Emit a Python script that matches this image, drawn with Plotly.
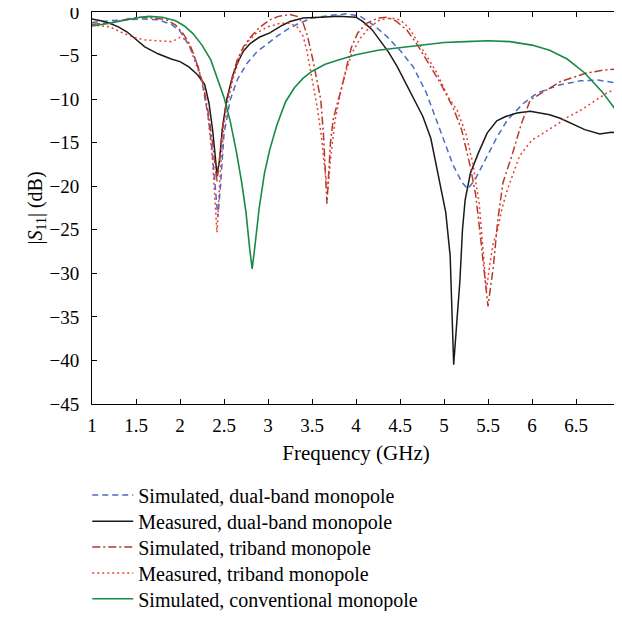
import plotly.graph_objects as go

# Simulated, dual-band monopole
f_sim_dual = [1.0, 1.2, 1.4, 1.6, 1.75, 1.9, 2.0, 2.1, 2.2, 2.26, 2.32, 2.36, 2.40, 2.43, 2.46, 2.5,
              2.57, 2.65, 2.76, 2.88, 3.0, 3.1, 3.22, 3.35, 3.5, 3.7, 3.9, 4.05, 4.2, 4.35, 4.5, 4.65,
              4.8, 4.95, 5.1, 5.2, 5.27, 5.35, 5.5, 5.6, 5.72, 5.9, 6.06, 6.3, 6.55, 6.75, 6.92, 7.0]
s_sim_dual = [-1.2, -1.0, -0.9, -0.8, -0.9, -1.4, -2.2, -3.8, -6.0, -8.6, -12.0, -15.5, -20.0, -23.5, -20.0, -14.0,
              -10.1, -7.8, -5.9, -4.5, -3.6, -2.8, -2.0, -1.3, -0.7, -0.4, -0.2, -0.5, -1.5, -2.8, -4.4, -6.3,
              -9.3, -13.5, -17.5, -19.5, -20.3, -19.3, -16.4, -14.4, -12.4, -10.5, -9.3, -8.4, -7.9, -7.8, -8.1, -8.4]

# Measured, dual-band monopole
f_meas_dual = [1.0, 1.1, 1.2, 1.3, 1.4, 1.5, 1.6, 1.75, 1.9, 2.0, 2.1, 2.2, 2.28, 2.33, 2.37, 2.4, 2.42, 2.45,
               2.48, 2.53, 2.6, 2.65, 2.72, 2.8, 2.9, 3.02, 3.15, 3.25, 3.4, 3.6, 3.8, 4.0, 4.08, 4.18, 4.27,
               4.37, 4.47, 4.6, 4.76, 4.85, 4.95, 5.02, 5.07, 5.11, 5.15, 5.18, 5.21, 5.24, 5.3, 5.39, 5.49,
               5.6, 5.7, 5.83, 5.98, 6.1, 6.2, 6.32, 6.45, 6.6, 6.77, 6.9, 7.0]
s_meas_dual = [-0.8, -1.0, -1.3, -1.7, -2.3, -3.2, -4.0, -4.8, -5.4, -5.7, -6.3, -7.2, -8.3, -10.5, -13.5, -16.5, -18.7, -17.0,
               -13.5, -10.1, -7.3, -5.9, -4.5, -3.6, -2.9, -2.4, -1.6, -1.1, -0.7, -0.6, -0.5, -0.6, -1.1, -2.0, -3.2,
               -4.6, -6.3, -8.8, -12.0, -14.5, -19.6, -23.0, -28.0, -40.5, -35.0, -31.0, -25.0, -21.6, -18.5, -16.2, -13.9,
               -12.5, -12.0, -11.6, -11.4, -11.6, -11.8, -12.2, -12.8, -13.5, -14.0, -13.8, -13.9]

# Simulated, triband monopole
f_sim_tri = [1.0, 1.2, 1.4, 1.55, 1.7, 1.85, 1.95, 2.03, 2.1, 2.15, 2.2, 2.26, 2.32, 2.37, 2.42, 2.46, 2.5,
             2.53, 2.58, 2.65, 2.72, 2.8, 2.9, 3.02, 3.12, 3.25, 3.33, 3.4, 3.45, 3.51, 3.56, 3.6, 3.63, 3.67,
             3.71, 3.74, 3.79, 3.84, 3.9, 3.95, 4.02, 4.12, 4.25, 4.35, 4.45, 4.58, 4.7, 4.8, 4.95, 5.1, 5.2,
             5.3, 5.36, 5.41, 5.46, 5.5, 5.53, 5.56, 5.61, 5.67, 5.78, 5.88, 5.98, 6.15, 6.32, 6.5, 6.62, 6.8, 7.0]
s_sim_tri = [-1.4, -1.3, -0.8, -0.6, -0.7, -0.9, -1.5, -2.4, -3.5, -4.7, -6.2, -8.2, -11.5, -15.0, -19.5, -15.5, -12.0,
             -10.5, -8.0, -5.5, -4.0, -2.9, -1.8, -0.9, -0.5, -0.3, -0.5, -1.3, -2.8, -5.5, -8.0, -10.1, -14.0, -22.0,
             -15.0, -12.4, -10.4, -8.6, -6.0, -4.0, -2.4, -1.3, -0.7, -0.6, -1.0, -2.1, -3.8, -5.5, -8.0, -10.9, -13.5,
             -17.8, -21.0, -25.4, -30.0, -33.8, -31.5, -29.3, -24.0, -19.6, -16.2, -12.8, -10.1, -9.0, -8.0, -7.4, -7.0, -6.7, -6.5]

# Measured, triband monopole
f_meas_tri = [1.0, 1.2, 1.35, 1.47, 1.6, 1.75, 1.89, 1.95, 2.0, 2.05, 2.1, 2.15, 2.2, 2.26, 2.32, 2.37, 2.42, 2.46,
              2.5, 2.53, 2.6, 2.68, 2.77, 2.87, 3.0, 3.14, 3.25, 3.33, 3.4, 3.44, 3.51, 3.56, 3.61, 3.65, 3.68,
              3.71, 3.76, 3.85, 3.95, 4.05, 4.15, 4.27, 4.4, 4.5, 4.6, 4.69, 4.8, 4.92, 5.05, 5.15, 5.25, 5.33,
              5.4, 5.45, 5.48, 5.52, 5.56, 5.6, 5.66, 5.72, 5.8, 5.86, 6.0, 6.24, 6.4, 6.55, 6.7, 6.85, 7.0]
s_meas_tri = [-1.5, -1.7, -2.4, -2.9, -3.2, -3.3, -3.4, -3.2, -2.9, -3.1, -3.6, -5.1, -6.5, -8.2, -12.0, -17.0, -25.3, -18.0,
              -13.0, -10.9, -7.8, -5.1, -3.4, -2.4, -1.7, -1.3, -1.3, -1.7, -2.8, -4.4, -8.2, -11.0, -14.5, -18.5, -20.5,
              -17.0, -12.5, -8.0, -4.8, -3.0, -1.8, -0.9, -0.7, -0.9, -1.8, -3.2, -5.0, -7.0, -9.8, -11.3, -14.0, -17.5,
              -22.0, -28.0, -32.0, -29.0, -26.5, -25.4, -22.5, -20.4, -18.3, -16.5, -14.7, -13.2, -12.1, -11.3, -10.3, -9.3, -8.6]

# Simulated, conventional monopole
f_sim_conv = [1.0, 1.2, 1.4, 1.55, 1.65, 1.8, 1.95, 2.05, 2.15, 2.25, 2.35, 2.43, 2.5, 2.57, 2.64, 2.7, 2.75,
              2.79, 2.82, 2.85, 2.9, 2.96, 3.02, 3.1, 3.2, 3.3, 3.4, 3.5, 3.65, 3.8, 4.0, 4.25, 4.5, 4.75, 5.0,
              5.25, 5.5, 5.75, 6.0, 6.2, 6.4, 6.6, 6.8, 7.0]
s_sim_conv = [-1.6, -1.3, -0.9, -0.6, -0.5, -0.6, -1.0, -1.6, -2.5, -3.8, -5.5, -7.8, -9.8, -12.5, -16.0, -19.5, -23.0,
              -27.0, -29.5, -27.0, -22.5, -18.5, -15.8, -13.0, -10.3, -8.7, -7.6, -6.8, -6.0, -5.5, -4.9, -4.4, -4.1, -3.8, -3.5,
              -3.4, -3.3, -3.4, -3.8, -4.4, -5.4, -7.0, -9.2, -11.9]

x_ticks = [1, 1.5, 2, 2.5, 3, 3.5, 4, 4.5, 5, 5.5, 6, 6.5, 7]
y_ticks = [0, -5, -10, -15, -20, -25, -30, -35, -40, -45]

series = [
    ("Simulated, dual-band monopole", f_sim_dual, s_sim_dual, "#4a6cc0", "6px,4px", 1.5),
    ("Measured, dual-band monopole", f_meas_dual, s_meas_dual, "#1a1a1a", "solid", 1.5),
    ("Simulated, triband monopole", f_sim_tri, s_sim_tri, "#b03c2a", "8px,3px,2px,3px", 1.5),
    ("Measured, triband monopole", f_meas_tri, s_meas_tri, "#f03a3a", "2px,3px", 1.5),
    ("Simulated, conventional monopole", f_sim_conv, s_sim_conv, "#188a48", "solid", 1.6),
]

font_family = "Liberation Serif"

fig = go.Figure()
# one legend per entry so the row spacing can follow the reference
legend_ids = ["legend", "legend2", "legend3", "legend4", "legend5"]
legend_rows_y = [-0.232, -0.299, -0.365, -0.431, -0.497]
for (name, fx, sy, color, dash, w), lid in zip(series, legend_ids):
    fig.add_trace(go.Scatter(
        x=fx, y=sy, mode="lines", name=name, legend=lid,
        line=dict(color=color, dash=dash, width=w)
    ))

axis_common = dict(
    showline=True, linecolor="black", linewidth=1, mirror="ticks",
    ticks="inside", ticklen=5, tickcolor="black", showgrid=False, zeroline=False,
    automargin=False, ticklabeloverflow="allow",
    tickfont=dict(family=font_family, size=19, color="black"),
)

legend_style = dict(x=-0.009, xanchor="left", yanchor="middle", itemwidth=41,
                    bgcolor="rgba(0,0,0,0)",
                    font=dict(family=font_family, size=20, color="black"))

# the page body adds an 8px margin, so the figure is smaller and margins shifted
fig.update_layout(
    width=614, height=603,
    paper_bgcolor="white", plot_bgcolor="white",
    margin=dict(l=84, r=2, t=4, b=207, autoexpand=False),
    font=dict(family=font_family, size=20, color="black"),
    xaxis=dict(range=[1, 7], tickvals=x_ticks, ticklabelstandoff=4,
               title=dict(text="Frequency (GHz)", standoff=10, font=dict(size=21)),
               **axis_common),
    yaxis=dict(range=[-45, 0], tickvals=y_ticks, ticklabelstandoff=8,
               title=dict(text="|<i>S</i><sub>11</sub>| (dB)", standoff=0, font=dict(size=20)),
               **axis_common),
    showlegend=True,
)
for lid, ly in zip(legend_ids, legend_rows_y):
    fig.update_layout({lid: dict(y=ly, **legend_style)})

fig.write_html("out.html")
